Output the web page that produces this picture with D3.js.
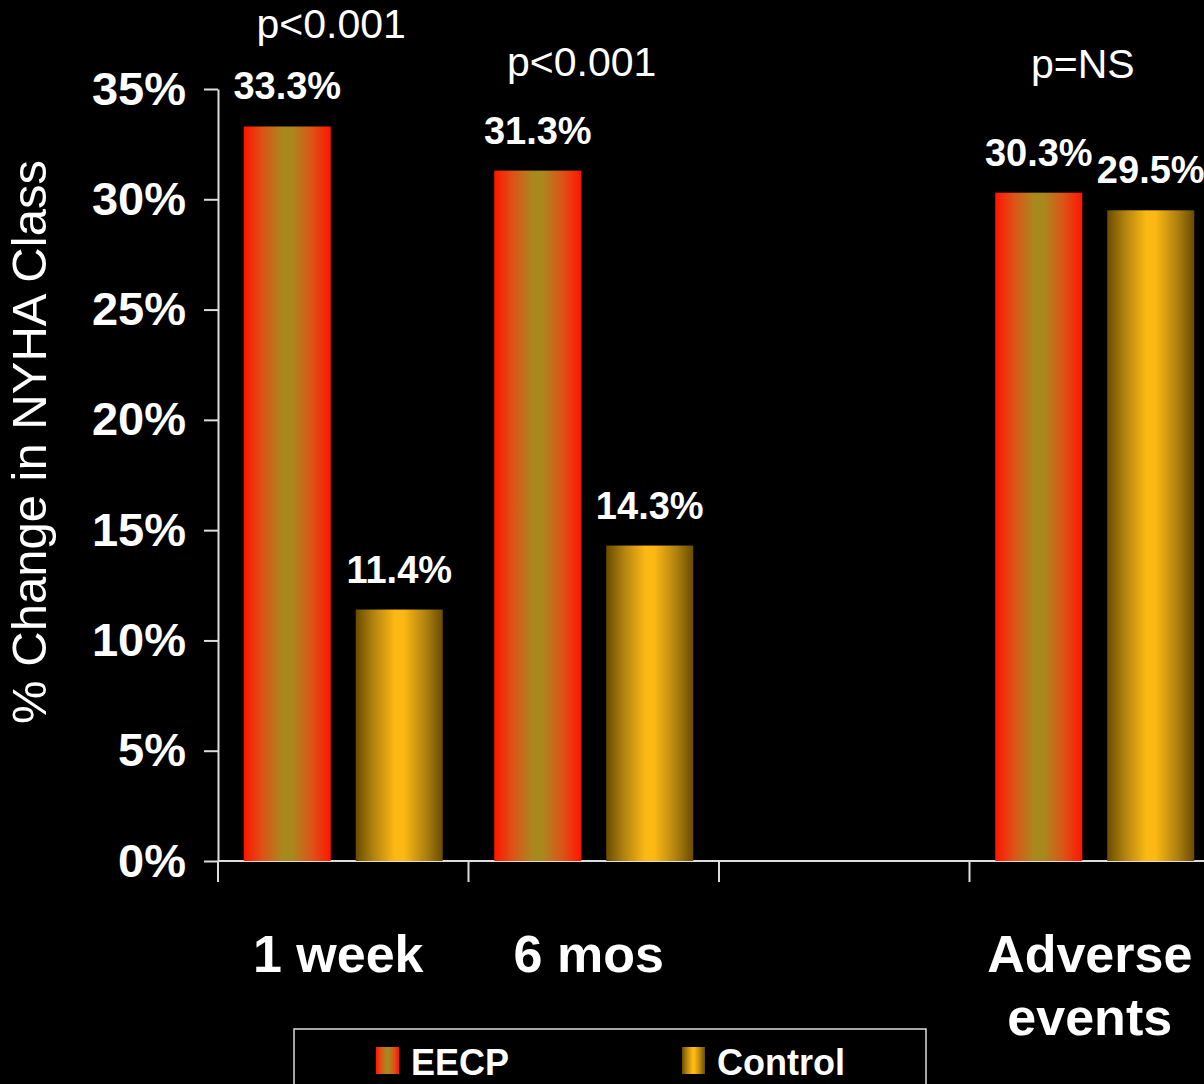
<!DOCTYPE html>
<html>
<head>
<meta charset="utf-8">
<script src="https://cdn.jsdelivr.net/npm/d3@7"></script>
<style>
  html, body { margin: 0; padding: 0; background: #000; }
  text { font-family: "Liberation Sans", Arial, sans-serif; fill: #fff; }
</style>
</head>
<body>
<div id="chart"></div>
<script>
// data
let categories = ["1 week", "6 mos", "", "Adverse events"];
let seriesNames = ["EECP", "Control"];
let eecpValues = [0.333, 0.313, null, 0.303];
let controlValues = [0.114, 0.143, null, 0.295];
let pLabels = ["p<0.001", "p<0.001", "", "p=NS"];
let pLabelLevel = [0.373, 0.356, null, 0.355];
let yTicks = [0, 0.05, 0.10, 0.15, 0.20, 0.25, 0.30, 0.35];

let svgWidth = 1204;
let svgHeight = 1084;

let svg = d3.select("#chart")
  .append("svg")
  .attr("width", svgWidth)
  .attr("height", svgHeight);

svg.append("rect")
  .attr("width", svgWidth)
  .attr("height", svgHeight)
  .attr("fill", "#000");

// gradients for the bars
let defs = svg.append("defs");

let gEecp = defs.append("linearGradient").attr("id", "gradEecp")
  .attr("x1", "0%").attr("x2", "100%").attr("y1", "0%").attr("y2", "0%");
[[0, "#ff1500"], [0.22, "#dc5418"], [0.45, "#a8891e"], [0.55, "#a8891e"], [0.78, "#dc5418"], [1, "#ff1500"]]
  .forEach(s => gEecp.append("stop").attr("offset", s[0]).attr("stop-color", s[1]));

let gCtrl = defs.append("linearGradient").attr("id", "gradCtrl")
  .attr("x1", "0%").attr("x2", "100%").attr("y1", "0%").attr("y2", "0%");
[[0, "#6a4c00"], [0.2, "#b08210"], [0.45, "#fdb913"], [0.55, "#fdb913"], [0.8, "#b08210"], [1, "#6a4c00"]]
  .forEach(s => gCtrl.append("stop").attr("offset", s[0]).attr("stop-color", s[1]));

let fills = ["url(#gradEecp)", "url(#gradCtrl)"];

// scales
let x0 = d3.scaleBand()
  .domain(d3.range(categories.length))
  .range([218, 1220])
  .padding(0);

let x1 = d3.scaleBand()
  .domain(seriesNames)
  .range([0, x0.bandwidth()])
  .paddingInner(0.223)
  .paddingOuter(0.23);

let y = d3.scaleLinear()
  .domain([0, 0.35])
  .range([861, 89]);

// y axis
let yAxis = d3.axisLeft(y)
  .tickValues(yTicks)
  .tickFormat(d3.format(".0%"))
  .tickSizeInner(14)
  .tickSizeOuter(0)
  .tickPadding(18);

let yG = svg.append("g")
  .attr("transform", "translate(218,0)")
  .call(yAxis);
yG.select(".domain").attr("stroke", "#ddd").attr("stroke-width", 2);
yG.selectAll(".tick line").attr("stroke", "#ddd").attr("stroke-width", 2);
yG.selectAll(".tick text")
  .attr("fill", "#fff")
  .style("font-size", "47px")
  .style("font-weight", "bold")
  .style("font-family", "'Liberation Sans', Arial, sans-serif");

// x axis baseline and category separators
svg.append("line")
  .attr("x1", 218).attr("x2", svgWidth)
  .attr("y1", y(0)).attr("y2", y(0))
  .attr("stroke", "#ddd").attr("stroke-width", 2);

svg.selectAll(".xtick")
  .data(d3.range(categories.length))
  .enter()
  .append("line")
  .attr("class", "xtick")
  .attr("x1", d => x0(d)).attr("x2", d => x0(d))
  .attr("y1", y(0)).attr("y2", y(0) + 21)
  .attr("stroke", "#ddd").attr("stroke-width", 2);

// bars
let rows = [];
categories.forEach((c, i) => {
  if (eecpValues[i] != null) rows.push({ cat: i, s: 0, v: eecpValues[i] });
  if (controlValues[i] != null) rows.push({ cat: i, s: 1, v: controlValues[i] });
});

svg.selectAll(".bar")
  .data(rows)
  .enter()
  .append("rect")
  .attr("class", "bar")
  .attr("x", d => x0(d.cat) + x1(seriesNames[d.s]))
  .attr("y", d => y(d.v))
  .attr("width", x1.bandwidth())
  .attr("height", d => y(0) - y(d.v))
  .attr("fill", d => fills[d.s]);

svg.selectAll(".vlabel")
  .data(rows)
  .enter()
  .append("text")
  .attr("class", "vlabel")
  .attr("x", d => x0(d.cat) + x1(seriesNames[d.s]) + x1.bandwidth() / 2)
  .attr("y", d => y(d.v) - 27)
  .attr("text-anchor", "middle")
  .style("font-size", "38px")
  .style("font-weight", "bold")
  .text(d => (d.v * 100).toFixed(1) + "%");

// p-values
svg.selectAll(".plabel")
  .data(d3.range(categories.length).filter(i => pLabels[i]))
  .enter()
  .append("text")
  .attr("class", "plabel")
  .attr("x", d => x0(d) + x0.bandwidth() / 2 - 12)
  .attr("y", d => y(pLabelLevel[d]))
  .attr("text-anchor", "middle")
  .style("font-size", "41px")
  .text(d => pLabels[d]);

// category labels
let catG = svg.selectAll(".cat")
  .data(d3.range(categories.length))
  .enter()
  .append("text")
  .attr("class", "cat")
  .attr("text-anchor", "middle")
  .style("font-size", "52px")
  .style("font-weight", "bold");

catG.each(function(d) {
  let words = categories[d].split(" ");
  let lines = categories[d] === "Adverse events" ? words : [categories[d]];
  let t = d3.select(this);
  lines.forEach((ln, k) => {
    t.append("tspan")
      .attr("x", x0(d) + x0.bandwidth() / 2 - 5)
      .attr("y", 972 + k * 63)
      .text(ln);
  });
});

// y axis title
svg.append("text")
  .attr("transform", "translate(46, 442) rotate(-90)")
  .attr("text-anchor", "middle")
  .style("font-size", "49px")
  .text("% Change in NYHA Class");

// legend
svg.append("rect")
  .attr("x", 294).attr("y", 1029)
  .attr("width", 632).attr("height", 80)
  .attr("fill", "none")
  .attr("stroke", "#ddd")
  .attr("stroke-width", 1.5);

let legendX = [376, 682];
seriesNames.forEach((name, i) => {
  svg.append("rect")
    .attr("x", legendX[i]).attr("y", 1047)
    .attr("width", 23).attr("height", 27)
    .attr("fill", fills[i]);
  svg.append("text")
    .attr("x", legendX[i] + 35).attr("y", 1075)
    .style("font-size", "36px")
    .style("font-weight", "bold")
    .text(name);
});
</script>
</body>
</html>
